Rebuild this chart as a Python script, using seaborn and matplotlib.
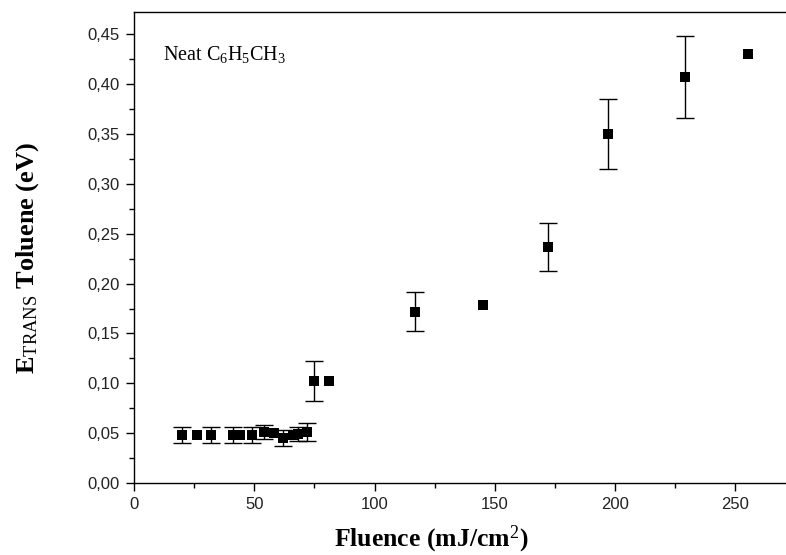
import numpy as np
import pandas as pd
import matplotlib
matplotlib.use("Agg")
import matplotlib.pyplot as plt
import seaborn as sns
from matplotlib.ticker import MultipleLocator, FuncFormatter

# Data
fluence = [20, 26, 32, 41, 44, 49, 54, 58, 62, 66, 68, 72,
           75, 81, 117, 145, 172, 197, 229, 255]
e_trans = [0.048, 0.048, 0.048, 0.048, 0.048, 0.048, 0.051, 0.050, 0.045, 0.048, 0.049, 0.051,
           0.102, 0.102, 0.172, 0.179, 0.237, 0.350, 0.407, 0.430]
err = [0.008, 0.0, 0.008, 0.008, 0.0, 0.008, 0.007, 0.0, 0.008, 0.0, 0.007, 0.009,
       0.020, 0.0, 0.020, 0.0, 0.024, 0.035, 0.041, 0.0]

df = pd.DataFrame({"fluence": fluence, "e": e_trans, "err": err})

sns.set_theme(style="ticks")
plt.rcParams["mathtext.fontset"] = "custom"
plt.rcParams["mathtext.rm"] = "Liberation Serif"
plt.rcParams["mathtext.it"] = "Liberation Serif:italic"
plt.rcParams["mathtext.bf"] = "Liberation Serif:bold"

fig = plt.figure(figsize=(7.86, 5.55), dpi=100)
ax = fig.add_axes([134 / 786, 1 - 483 / 555, 1 - 134 / 786, (483 - 12) / 555])

dfe = df[df["err"] > 0]
ax.errorbar(dfe["fluence"], dfe["e"], yerr=dfe["err"], fmt="none",
            ecolor="black", elinewidth=1.0, capsize=6.8, capthick=1.0, zorder=2)
sns.scatterplot(data=df, x="fluence", y="e", marker="s", s=52, color="black",
                edgecolor="black", linewidth=0, ax=ax, zorder=3)

ax.set_xlim(0, 271)
ax.set_ylim(0, 0.4724)
ax.xaxis.set_major_locator(MultipleLocator(50))
ax.xaxis.set_minor_locator(MultipleLocator(25))
ax.yaxis.set_major_locator(MultipleLocator(0.05))
ax.yaxis.set_minor_locator(MultipleLocator(0.025))
ax.yaxis.set_major_formatter(FuncFormatter(lambda v, p: f"{v:.2f}".replace(".", ",")))
ax.xaxis.set_major_formatter(FuncFormatter(lambda v, p: f"{v:.0f}"))

ax.tick_params(which="major", direction="out", length=6, width=1, colors="black",
               labelsize=12, pad=4)
ax.tick_params(which="minor", direction="out", length=3.5, width=1, colors="black")
for lab in ax.get_xticklabels() + ax.get_yticklabels():
    lab.set_fontfamily("Liberation Sans")
    lab.set_color("#222222")

for side in ["left", "bottom", "top"]:
    ax.spines[side].set_color("black")
    ax.spines[side].set_linewidth(1.0)
ax.spines["right"].set_visible(False)

ax.set_xlabel(r"Fluence (mJ/cm$^{2}$)", fontfamily="Liberation Serif",
              fontsize=18.5, fontweight="bold", color="black")
ax.set_ylabel(r"E$_{\mathrm{TRANS}}$ Toluene (eV)", fontfamily="Liberation Serif",
              fontsize=19, fontweight="bold", color="black")
ax.xaxis.set_label_coords((431 - 134) / 652, (483 - 524) / 471)
ax.yaxis.set_label_coords((41 - 134) / 652, (483 - 258) / 471)

ax.text(12, 0.43, r"Neat C$_{6}$H$_{5}$CH$_{3}$", fontfamily="Liberation Serif",
        fontsize=14.5, color="black", va="center", ha="left")

fig.savefig("out.png", dpi=100)
